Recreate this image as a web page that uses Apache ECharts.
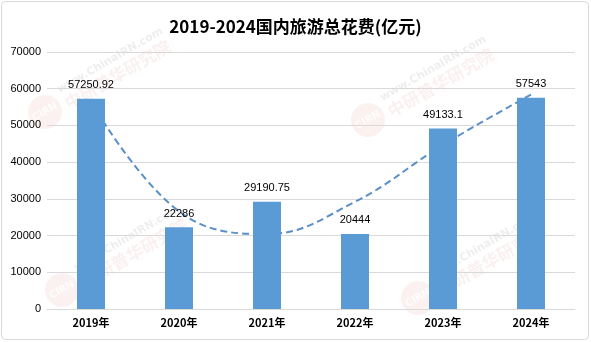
<!DOCTYPE html>
<html>
<head>
<meta charset="utf-8">
<script src="https://cdn.jsdelivr.net/npm/echarts@6/dist/echarts.min.js"></script>
<style>
html,body{margin:0;padding:0;background:#fff;}
#main{width:591px;height:342px;}
</style>
</head>
<body>
<div id="main"></div>
<script>
const titleText = '2019-2024国内旅游总花费(亿元)';
const categories = ['2019年', '2020年', '2021年', '2022年', '2023年', '2024年'];
const spending = [57250.92, 22286, 29190.75, 20444, 49133.1, 57543];
const trendValues = [56400, 26600, 20400, 29200, 44700, 58400];
const yMin = 0, yMax = 70000, yStep = 10000;

const chart = echarts.init(document.getElementById('main'), null, {renderer: 'canvas'});

function watermark(cx, cy) {
  return {
    type: 'group', x: cx, y: cy, rotation: Math.PI / 6, silent: true, z: 0,
    children: [
      {type: 'circle', shape: {cx: 0, cy: 0, r: 17}, style: {fill: 'rgba(230,120,120,0.10)'}},
      {type: 'text', x: 0, y: 0, style: {text: 'CIRN', font: 'bold 10px "DejaVu Sans"', fill: 'rgba(255,255,255,0.8)', align: 'center', verticalAlign: 'middle'}},
      {type: 'text', x: 22, y: -12, style: {text: 'www.ChinaIRN.com', font: 'bold 11px "DejaVu Sans"', fill: 'rgba(200,200,200,0.3)', verticalAlign: 'middle'}},
      {type: 'text', x: 22, y: 4, style: {text: '中研普华研究院', font: 'bold 17px "Noto Sans CJK SC"', fill: 'rgba(220,150,150,0.14)', verticalAlign: 'middle'}}
    ]
  };
}

chart.setOption({
  animation: false,
  backgroundColor: '#ffffff',
  title: {
    text: titleText, left: 'center', top: 13,
    textStyle: {fontFamily: '"Noto Sans CJK SC"', fontWeight: 'bold', fontSize: 17, color: '#000'}
  },
  graphic: [
    {type: 'rect', shape: {x: 1.5, y: 1.5, width: 587, height: 338, r: 4}, style: {fill: 'none', stroke: '#D9D9D9', lineWidth: 1}, silent: true, z: 0},
    watermark(45, 112),
    watermark(368, 120),
    watermark(62, 290),
    watermark(418, 298)
  ],
  grid: {left: 47, right: 16, top: 52, bottom: 33, containLabel: false},
  xAxis: {
    type: 'category', data: categories,
    axisLine: {show: true, lineStyle: {color: '#D9D9D9', width: 1}},
    axisTick: {show: false},
    axisLabel: {color: '#000', fontSize: 11, fontWeight: 'bold', fontFamily: '"Noto Sans CJK SC"', margin: 8}
  },
  yAxis: {
    type: 'value', min: yMin, max: yMax, interval: yStep,
    axisLine: {show: false}, axisTick: {show: false},
    splitLine: {lineStyle: {color: '#D9D9D9', width: 1}},
    axisLabel: {color: '#000', fontSize: 11, fontFamily: 'Liberation Sans', margin: 6, formatter: v => String(v)}
  },
  series: [
    {
      type: 'line', data: trendValues, smooth: 0.4, symbol: 'none', z: 1,
      lineStyle: {color: '#5B8FC9', width: 2, type: [7, 4]}
    },
    {
      type: 'bar', data: spending, barWidth: 28, z: 3,
      itemStyle: {color: '#5B9BD5'},
      label: {show: true, position: 'top', distance: 8, color: '#000', fontSize: 11, fontFamily: 'Liberation Sans', formatter: p => String(p.value)}
    }
  ]
});
</script>
</body>
</html>
